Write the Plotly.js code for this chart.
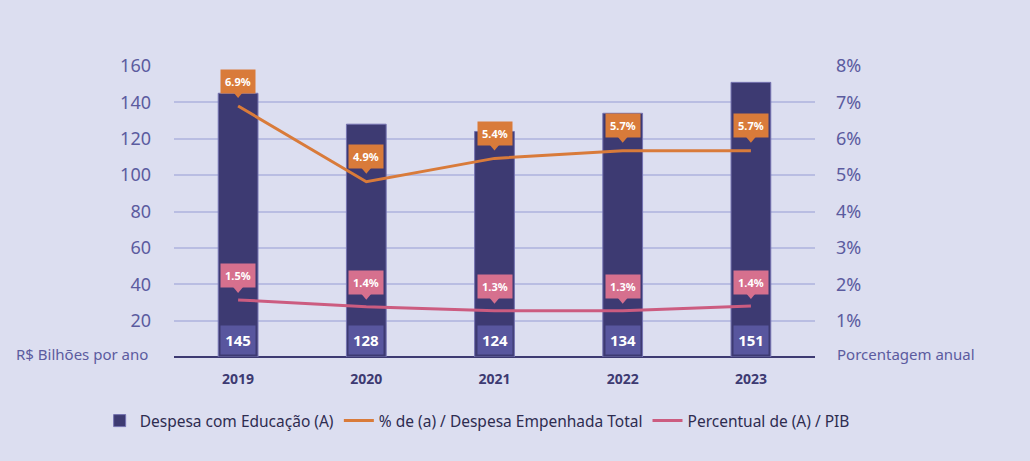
<!DOCTYPE html>
<html><head><meta charset="utf-8">
<script src="https://cdn.plot.ly/plotly-3.0.1.min.js"></script>
<style>html,body{margin:0;padding:0;background:#DCDEF0;}#chart{width:1030px;height:461px;}</style>
</head><body><div id="chart"></div>
<script>
const years = ['2019','2020','2021','2022','2023'];
const despesa = [145, 128, 124, 134, 151];
const despesaLabels = ['145','128','124','134','151'];
const pctDespesaTotal = [6.9, 4.82, 5.46, 5.67, 5.67];
const pctDespesaTotalLabels = ['6.9%','4.9%','5.4%','5.7%','5.7%'];
const pctPIB = [1.57, 1.38, 1.27, 1.27, 1.40];
const pctPIBLabels = ['1.5%','1.4%','1.3%','1.3%','1.4%'];
const leftTicks = [20,40,60,80,100,120,140,160];
const rightTicks = [1,2,3,4,5,6,7,8];

const FONT = '"Noto Sans", "Open Sans", sans-serif';
const BAR = '#3D3A72', ORANGE = '#D97B3A', PINK = '#CC5C80', PINKBOX = '#D6708E';
const TICK = '#5B5B9F';

const traces = [
  {type:'bar', x:years, y:despesa, name:'Despesa com Educação (A)', width:0.31,
   marker:{color:BAR, line:{color:'#7472B0', width:1}}, hoverinfo:'skip'},
  {type:'scatter', mode:'lines', x:years, y:pctDespesaTotal, yaxis:'y2',
   name:'% de (a) / Despesa Empenhada Total', line:{color:ORANGE, width:3}, hoverinfo:'skip'},
  {type:'scatter', mode:'lines', x:years, y:pctPIB, yaxis:'y2',
   name:'Percentual de (A) / PIB', line:{color:PINK, width:3}, hoverinfo:'skip'}
];

const annotations = [];
const shapes = [];
years.forEach((yr, i) => {
  annotations.push({x:i, y:0, xref:'x', yref:'y', yshift:17, showarrow:false,
    text:'<b>'+despesaLabels[i]+'</b>', font:{family:FONT, size:15, color:'#FFFFFF'},
    bgcolor:'#58569E', borderpad:4, width:26});
  annotations.push({x:i, y:pctDespesaTotal[i], xref:'x', yref:'y2', yshift:25, showarrow:false,
    text:'<b>'+pctDespesaTotalLabels[i]+'</b>', font:{family:FONT, size:11, color:'#FFFFFF'},
    bgcolor:ORANGE, borderpad:4});
  annotations.push({x:i, y:pctPIB[i], xref:'x', yref:'y2', yshift:24, showarrow:false,
    text:'<b>'+pctPIBLabels[i]+'</b>', font:{family:FONT, size:11, color:'#FFFFFF'},
    bgcolor:PINKBOX, borderpad:4});
  shapes.push({type:'path', xref:'x', yref:'y2', xsizemode:'pixel', ysizemode:'pixel',
    xanchor:i, yanchor:pctDespesaTotal[i], path:'M-5,14 L5,14 L0,8 Z',
    fillcolor:ORANGE, line:{width:0}});
  shapes.push({type:'path', xref:'x', yref:'y2', xsizemode:'pixel', ysizemode:'pixel',
    xanchor:i, yanchor:pctPIB[i], path:'M-5,13 L5,13 L0,7 Z',
    fillcolor:PINKBOX, line:{width:0}});
});
annotations.push({x:0, y:0, xref:'paper', yref:'y', xanchor:'right', yanchor:'middle',
  xshift:-24, yshift:3, showarrow:false, text:'R$ Bilhões por ano',
  font:{family:FONT, size:15, color:TICK}});
annotations.push({x:1, y:0, xref:'paper', yref:'y', xanchor:'left', yanchor:'middle',
  xshift:20, yshift:3, showarrow:false, text:'Porcentagem anual',
  font:{family:FONT, size:15, color:TICK}});

const layout = {
  width:1030, height:461,
  margin:{l:174, r:215, t:66, b:104, autoexpand:false},
  paper_bgcolor:'#DCDEF0', plot_bgcolor:'#DCDEF0',
  font:{family:FONT, color:TICK},
  showlegend:true,
  legend:{orientation:'h', x:-0.116, xanchor:'left', y:-0.22, yanchor:'middle',
    font:{family:FONT, size:15.5, color:'#2E2C50'}, bgcolor:'rgba(0,0,0,0)', itemwidth:30},
  bargap:0.5,
  xaxis:{type:'category', range:[-0.5,4.5], showgrid:false, zeroline:false,
    showline:false, ticks:'', tickfont:{family:FONT, size:14, color:'#3D3A72', weight:'bold'},
    ticklabelstandoff:12, fixedrange:true},
  yaxis:{range:[0,160], tickvals:leftTicks, ticktext:leftTicks.map(String),
    showgrid:true, gridcolor:'#B9BDE2', gridwidth:2, zeroline:true, zerolinecolor:BAR,
    zerolinewidth:2, showline:false, tickfont:{family:FONT, size:18, color:TICK},
    ticklabelstandoff:22, fixedrange:true},
  yaxis2:{range:[0,8], overlaying:'y', side:'right', tickvals:rightTicks,
    ticktext:rightTicks.map(v=>v+'%'), showgrid:false, zeroline:false, showline:false,
    tickfont:{family:FONT, size:18, color:TICK}, ticklabelstandoff:20, fixedrange:true},
  annotations:annotations, shapes:shapes
};

Plotly.newPlot('chart', traces, layout, {displayModeBar:false, staticPlot:true});
</script></body></html>
